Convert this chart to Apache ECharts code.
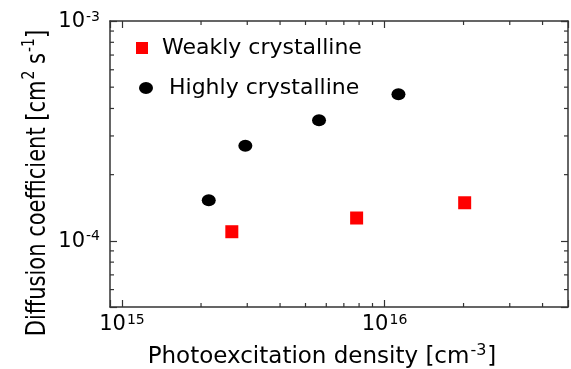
<!DOCTYPE html>
<html>
<head>
<meta charset="utf-8">
<script src="https://cdn.jsdelivr.net/npm/echarts@6/dist/echarts.min.js"></script>
<style>
html, body { margin: 0; padding: 0; background: #fff; }
#chart { width: 571px; height: 369px; }
</style>
</head>
<body>
<div id="chart"></div>
<script>
// data
var weakName = 'Weakly crystalline';
var weakX = [2.62e15, 7.83e15, 2.02e16];
var weakY = [1.10e-4, 1.27e-4, 1.49e-4];

var highName = 'Highly crystalline';
var highX = [2.14e15, 2.95e15, 5.63e15, 1.13e16];
var highY = [1.53e-4, 2.71e-4, 3.54e-4, 4.64e-4];

var xMin = 9e14, xMax = 5e16;
var yMin = 5e-5, yMax = 1e-3;
var xMinorTicks = [2e15, 3e15, 4e15, 5e15, 6e15, 7e15, 8e15, 9e15, 2e16, 3e16, 4e16];
var yMinorTicks = [6e-5, 7e-5, 8e-5, 9e-5, 2e-4, 3e-4, 4e-4, 5e-4, 6e-4, 7e-4, 8e-4, 9e-4];

var FONT = 'DejaVu Sans';
var axisColor = '#333';
var ellipse = 'path://M0,6A7,6,0,1,1,14,6A7,6,0,1,1,0,6Z';

function pairs(xs, ys) {
    var out = [];
    for (var i = 0; i < xs.length; i++) out.push([xs[i], ys[i]]);
    return out;
}

function powLabel(v) {
    var e = Math.log10(v);
    if (Math.abs(e - Math.round(e)) > 1e-6) return '';
    return '{b|10}{s|' + Math.round(e) + '}';
}

var labelRich = {
    b: { fontFamily: FONT, fontSize: 21, color: '#000', lineHeight: 22, verticalAlign: 'bottom' },
    s: { fontFamily: FONT, fontSize: 14, color: '#000', lineHeight: 14, verticalAlign: 'top', padding: [0, 0, 13, 1] }
};

function tickX(params, api) {
    var p = api.coord([api.value(0), yMin]);
    var cs = params.coordSys;
    var st = { stroke: axisColor, lineWidth: 1.2 };
    return {
        type: 'group',
        children: [
            { type: 'line', shape: { x1: p[0], y1: cs.y + cs.height, x2: p[0], y2: cs.y + cs.height - 4 }, style: st },
            { type: 'line', shape: { x1: p[0], y1: cs.y, x2: p[0], y2: cs.y + 4 }, style: st }
        ]
    };
}

function tickY(params, api) {
    var p = api.coord([xMin, api.value(1)]);
    var cs = params.coordSys;
    var st = { stroke: axisColor, lineWidth: 1.2 };
    return {
        type: 'group',
        children: [
            { type: 'line', shape: { x1: cs.x, y1: p[1], x2: cs.x + 4, y2: p[1] }, style: st },
            { type: 'line', shape: { x1: cs.x + cs.width, y1: p[1], x2: cs.x + cs.width - 4, y2: p[1] }, style: st }
        ]
    };
}

var myChart = echarts.init(document.getElementById('chart'));

function logAxis(pos, min, max, showLabel, margin) {
    return {
        type: 'log',
        position: pos,
        min: min,
        max: max,
        axisLine: { show: true, onZero: false, lineStyle: { color: axisColor, width: 1.5 } },
        axisTick: { show: true, inside: true, length: 7, lineStyle: { color: axisColor, width: 1.2 } },
        axisLabel: { show: showLabel, margin: margin, formatter: powLabel, rich: labelRich },
        splitLine: { show: false }
    };
}

var option = {
    animation: false,
    backgroundColor: '#fff',
    grid: { left: 110, top: 21, width: 459, height: 286 },
    xAxis: [
        logAxis('bottom', xMin, xMax, true, 6),
        logAxis('top', xMin, xMax, false, 6)
    ],
    yAxis: [
        logAxis('left', yMin, yMax, true, 10),
        logAxis('right', yMin, yMax, false, 10)
    ],
    legend: [
        {
            data: [weakName],
            left: 136, top: 36, padding: 0,
            icon: 'rect', itemWidth: 12, itemHeight: 12,
            itemStyle: { opacity: 1 },
            textStyle: { fontFamily: FONT, fontSize: 22, color: '#000', lineHeight: 24, padding: [0, 0, 0, 9] }
        },
        {
            data: [highName],
            left: 139, top: 76, padding: 0,
            icon: ellipse, itemWidth: 14, itemHeight: 12,
            itemStyle: { opacity: 1 },
            textStyle: { fontFamily: FONT, fontSize: 22, color: '#000', lineHeight: 24, padding: [0, 0, 0, 11] }
        }
    ],
    graphic: [
        {
            type: 'text',
            x: 322, y: 356,
            style: {
                text: '{a|Photoexcitation density [cm}{s|-3}{a|]}',
                align: 'center', verticalAlign: 'middle',
                rich: {
                    a: { fontFamily: FONT, fontSize: 23, fill: '#000', lineHeight: 26, verticalAlign: 'bottom' },
                    s: { fontFamily: FONT, fontSize: 16, fill: '#000', lineHeight: 16, verticalAlign: 'top', padding: [0, 1, 11, 1] }
                }
            }
        },
        {
            type: 'text',
            x: 36, y: 183,
            rotation: Math.PI / 2,
            scaleY: 1.3,
            style: {
                text: '{a|Diffusion coefficient [cm}{s|2}{a| s}{s|-1}{a|]}',
                align: 'center', verticalAlign: 'middle',
                rich: {
                    a: { fontFamily: FONT, fontSize: 21, fill: '#000', lineHeight: 24, verticalAlign: 'bottom' },
                    s: { fontFamily: FONT, fontSize: 14, fill: '#000', lineHeight: 14, verticalAlign: 'top', padding: [0, 0, 9, 1] }
                }
            }
        }
    ],
    series: [
        {
            type: 'custom',
            silent: true,
            renderItem: tickX,
            data: xMinorTicks.map(function (v) { return [v, yMin]; })
        },
        {
            type: 'custom',
            silent: true,
            renderItem: tickY,
            data: yMinorTicks.map(function (v) { return [xMin, v]; })
        },
        {
            name: weakName,
            type: 'scatter',
            symbol: 'rect',
            symbolSize: 13,
            itemStyle: { color: '#ff0000', opacity: 1 },
            data: pairs(weakX, weakY)
        },
        {
            name: highName,
            type: 'scatter',
            symbol: ellipse,
            symbolSize: [14, 12],
            itemStyle: { color: '#000', opacity: 1 },
            data: pairs(highX, highY)
        }
    ]
};

myChart.setOption(option);
</script>
</body>
</html>
